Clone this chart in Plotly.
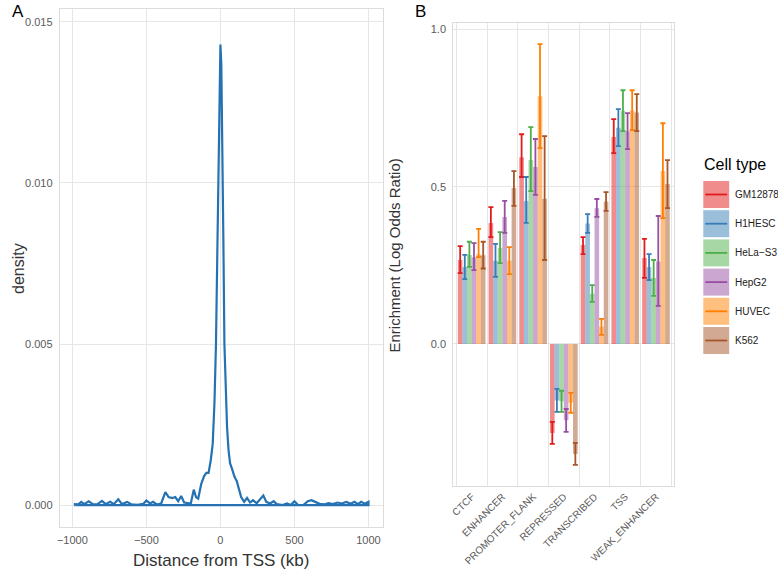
import plotly.graph_objects as go

# ---------------- Panel A data (density of distance from TSS) ----------------
dist_kb = [-990, -960, -940, -920, -890, -860, -830, -800, -775, -745, -720, -690, -665, -630,
           -600, -560, -520, -500, -475, -455, -430, -400, -372, -350, -325, -305, -285, -265,
           -245, -220, -200, -180, -165, -150, -130, -110, -95, -80, -65, -52, -40, -30, -20,
           -12, -6, 0, 6, 12, 20, 27, 35, 45, 55, 65, 80, 95, 110, 125, 140, 160, 180, 200, 220,
           245, 270, 290, 310, 335, 360, 380, 420, 450, 475, 500, 525, 560, 590, 615, 640, 670,
           700, 730, 760, 790, 820, 850, 880, 905, 930, 950, 975, 1000]
density = [0.00003, 0.00002, 0.0001, 0.00003, 0.00012, 0.00002, 0.00003, 0.00013, 0.00003,
           0.0001, 0.00003, 0.00018, 0.00003, 0.0001, 0.00002, 0.00001, 0.00004, 0.00014,
           0.00005, 0.0001, 0.00002, 0.00005, 0.0004, 0.00025, 0.00022, 0.00025, 0.00012,
           0.00028, 0.00008, 0.00005, 0.00005, 0.00048, 0.00025, 0.0002, 0.00065, 0.0009,
           0.0010, 0.0010, 0.0014, 0.0019, 0.0032, 0.0050, 0.0080, 0.0115, 0.0136, 0.0143,
           0.0137, 0.0118, 0.0082, 0.0050, 0.0034, 0.0024, 0.0017, 0.0013, 0.0011, 0.00088,
           0.00075, 0.00048, 0.00025, 0.0001, 0.00022, 0.00008, 0.00015, 0.00006, 0.0002,
           0.0003, 0.0001, 0.00005, 0.00012, 0.00003, 0.0, 0.00005, 0.0, 0.00012, 0.0, 0.0,
           0.00012, 0.00015, 0.0001, 0.00004, 0.00002, 0.00006, 0.00003, 0.00008, 0.00005,
           0.0001, 0.00004, 0.0001, 0.00003, 0.0001, 0.00004, 0.0001]
a_xticks = [-1000, -500, 0, 500, 1000]
a_xticklabels = ["\u22121000", "\u2212500", "0", "500", "1000"]
a_yticks = [0.0, 0.005, 0.010, 0.015]
a_yticklabels = ["0.000", "0.005", "0.010", "0.015"]

# ---------------- Panel B data (enrichment) ----------------
categories = ["CTCF", "ENHANCER", "PROMOTER_FLANK", "REPRESSED", "TRANSCRIBED", "TSS", "WEAK_ENHANCER"]
cell_types = ["GM12878", "H1HESC", "HeLa\u2212S3", "HepG2", "HUVEC", "K562"]

gm12878_val = [0.267, 0.385, 0.594, -0.283, 0.315, 0.658, 0.273]
gm12878_lo = [0.225, 0.340, 0.531, -0.318, 0.286, 0.607, 0.210]
gm12878_hi = [0.311, 0.435, 0.667, -0.248, 0.340, 0.715, 0.334]

h1hesc_val = [0.245, 0.265, 0.455, -0.180, 0.383, 0.688, 0.245]
h1hesc_lo = [0.206, 0.213, 0.385, -0.216, 0.353, 0.629, 0.203]
h1hesc_hi = [0.283, 0.318, 0.531, -0.143, 0.413, 0.747, 0.286]

helas3_val = [0.283, 0.305, 0.585, -0.182, 0.160, 0.742, 0.210]
helas3_lo = [0.245, 0.257, 0.486, -0.216, 0.134, 0.677, 0.153]
helas3_hi = [0.325, 0.356, 0.690, -0.149, 0.187, 0.807, 0.267]

hepg2_val = [0.276, 0.404, 0.563, -0.243, 0.432, 0.677, 0.262]
hepg2_lo = [0.235, 0.353, 0.474, -0.280, 0.404, 0.620, 0.121]
hepg2_hi = [0.321, 0.455, 0.652, -0.207, 0.461, 0.734, 0.407]

huvec_val = [0.285, 0.265, 0.788, -0.187, 0.055, 0.743, 0.550]
huvec_lo = [0.276, 0.222, 0.623, -0.219, 0.029, 0.680, 0.400]
huvec_hi = [0.366, 0.308, 0.954, -0.156, 0.080, 0.807, 0.702]

k562_val = [0.282, 0.496, 0.462, -0.350, 0.453, 0.736, 0.509]
k562_lo = [0.240, 0.439, 0.267, -0.385, 0.423, 0.677, 0.432]
k562_hi = [0.325, 0.550, 0.661, -0.315, 0.483, 0.795, 0.585]

b_yticks = [0.0, 0.5, 1.0]
b_yticklabels = ["0.0", "0.5", "1.0"]

# ---------------- styling ----------------
W, H = 778, 570
FONT = "Liberation Sans, Arial, Helvetica, sans-serif"
GRID = "#E6E6E6"
BORDER = "#DCDCDC"
TICKCOL = "#5A5A5A"
colors = ["#E41A1C", "#377EB8", "#4DAF4A", "#984EA3", "#FF7F00", "#A65628"]


def rgba(hexc, a):
    h = hexc.lstrip("#")
    return "rgba(%d,%d,%d,%s)" % (int(h[0:2], 16), int(h[2:4], 16), int(h[4:6], 16), a)


def px(x):
    return x / W


def py(y):
    return 1 - y / H


fig = go.Figure()

# Panel A: density outline (closed along the baseline like geom_density)
line_x = dist_kb + [dist_kb[-1], dist_kb[0]]
line_y = density + [0.0, 0.0]
fig.add_trace(go.Scatter(x=line_x, y=line_y, mode="lines",
                         line=dict(color="#2472B2", width=2.2),
                         xaxis="x", yaxis="y", showlegend=False, hoverinfo="skip"))

# Panel B: bars with error bars
series = [
    (gm12878_val, gm12878_lo, gm12878_hi),
    (h1hesc_val, h1hesc_lo, h1hesc_hi),
    (helas3_val, helas3_lo, helas3_hi),
    (hepg2_val, hepg2_lo, hepg2_hi),
    (huvec_val, huvec_lo, huvec_hi),
    (k562_val, k562_lo, k562_hi),
]
xpos = list(range(1, len(categories) + 1))
for name, col, (val, lo, hi) in zip(cell_types, colors, series):
    fig.add_trace(go.Bar(
        x=xpos, y=val, name=name,
        marker=dict(color=rgba(col, 0.5), line=dict(width=0)),
        error_y=dict(type="data", symmetric=False,
                     array=[h - v for h, v in zip(hi, val)],
                     arrayminus=[v - l for v, l in zip(val, lo)],
                     color=col, thickness=1.8, width=2.5),
        xaxis="x2", yaxis="y2", showlegend=False, hoverinfo="skip"))

axis_common = dict(showline=True, mirror=True, linecolor=BORDER, linewidth=1,
                   gridcolor=GRID, gridwidth=1, zeroline=False, ticks="",
                   tickfont=dict(family=FONT, size=11, color=TICKCOL))

fig.update_layout(
    width=W, height=H,
    margin=dict(l=0, r=0, t=0, b=0),
    paper_bgcolor="white", plot_bgcolor="white",
    barmode="group", bargap=0.1, bargroupgap=0.0,
    font=dict(family=FONT),
    xaxis=dict(domain=[px(57), px(381)], range=[-1085, 1095],
               tickvals=a_xticks, ticktext=a_xticklabels, anchor="y",
               ticklabelstandoff=3, **axis_common),
    yaxis=dict(domain=[py(527), py(9)], range=[-0.00068, 0.0154],
               tickvals=a_yticks, ticktext=a_yticklabels, anchor="x",
               ticklabelstandoff=4, **axis_common),
    xaxis2=dict(domain=[px(452), px(674)], range=[0.4, 7.6],
                tickvals=xpos, ticktext=categories, tickangle=-45, anchor="y2",
                showgrid=False,
                minor=dict(tick0=0.5, dtick=1, showgrid=True, gridcolor=GRID, gridwidth=1),
                showline=True, mirror=True, linecolor=BORDER, linewidth=1,
                zeroline=False, ticks="",
                tickfont=dict(family=FONT, size=10, color=TICKCOL)),
    yaxis2=dict(domain=[py(486), py(23)], range=[-0.452, 1.021],
                tickvals=b_yticks, ticktext=b_yticklabels, anchor="x2",
                ticklabelstandoff=4, **axis_common),
)

annotations = [
    dict(text="A", x=px(7), y=py(12), xanchor="left", yanchor="middle",
         font=dict(size=17, color="black")),
    dict(text="B", x=px(412), y=py(12), xanchor="left", yanchor="middle",
         font=dict(size=17, color="black")),
    dict(text="density", x=px(15), y=py(268), textangle=-90, xanchor="center", yanchor="middle",
         font=dict(size=16, color="#333333")),
    dict(text="Distance from TSS (kb)", x=px(219), y=py(560), xanchor="center", yanchor="middle",
         font=dict(size=17, color="#333333")),
    dict(text="Enrichment (Log Odds Ratio)", x=px(393), y=py(255), textangle=-90,
         xanchor="center", yanchor="middle", font=dict(size=15, color="#333333")),
    dict(text="Cell type", x=px(702), y=py(164), xanchor="left", yanchor="middle",
         font=dict(size=16, color="black")),
]
shapes = []
for i, (name, col) in enumerate(zip(cell_types, colors)):
    top = 181 + 29.2 * i
    bot = top + 27
    mid = (top + bot) / 2
    shapes.append(dict(type="rect", xref="paper", yref="paper",
                       x0=px(703), x1=px(729), y0=py(bot), y1=py(top),
                       fillcolor=rgba(col, 0.5), line=dict(width=0)))
    shapes.append(dict(type="line", xref="paper", yref="paper",
                       x0=px(705), x1=px(727), y0=py(mid), y1=py(mid),
                       line=dict(color=col, width=1.8)))
    annotations.append(dict(text=name, x=px(733), y=py(mid), xanchor="left", yanchor="middle",
                            font=dict(size=10, color="#222222")))

for a in annotations:
    a.update(xref="paper", yref="paper", showarrow=False)
    a["font"]["family"] = FONT
fig.update_layout(annotations=annotations, shapes=shapes)

# remove the default 8px page margin so the 778x570 figure fills the window exactly
fig.write_html("out.html", config={"displayModeBar": False},
               post_script="document.body.style.margin='0';document.body.style.overflow='hidden';")
